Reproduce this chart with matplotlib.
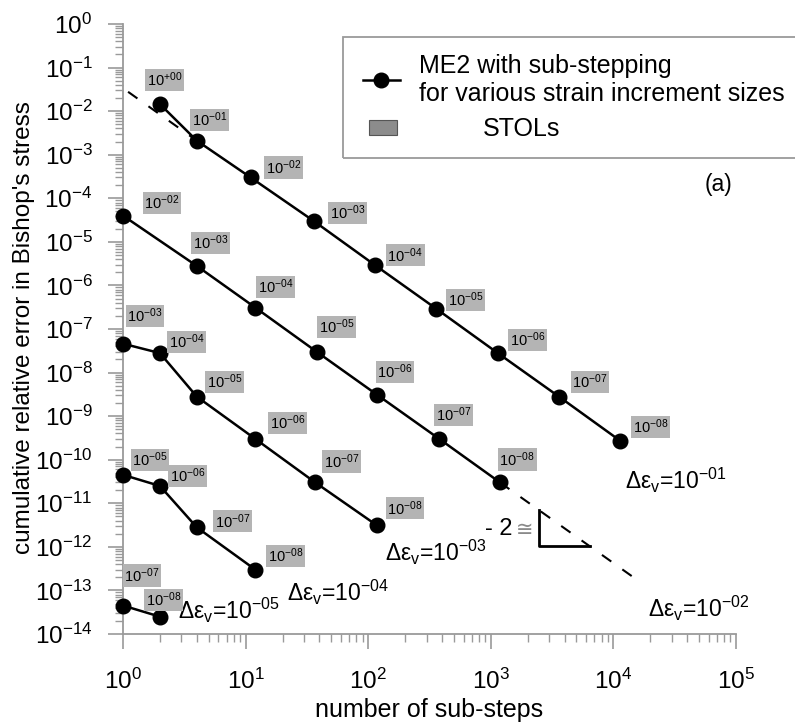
import numpy as np
import matplotlib
matplotlib.use("Agg")
import matplotlib.pyplot as plt
from matplotlib.ticker import LogLocator, NullFormatter
from matplotlib.lines import Line2D
from matplotlib.patches import Rectangle

plt.rcParams['font.family'] = ['Liberation Sans', 'DejaVu Sans']
plt.rcParams['mathtext.fontset'] = 'custom'
plt.rcParams['mathtext.rm'] = 'Liberation Sans'
plt.rcParams['mathtext.it'] = 'Liberation Sans:italic'

# -------------------------------
# Data
# -------------------------------
strain_exp = [-1, -2, -3, -4, -5]

steps_1 = [2, 4, 11, 36, 114, 360, 1140, 3600, 11400]
err_1 = [1.45e-2, 2.1e-3, 3.0e-4, 3.0e-5, 2.9e-6, 2.9e-7, 2.8e-8, 2.8e-9, 2.7e-10]
stol_1 = [0, -1, -2, -3, -4, -5, -6, -7, -8]

steps_2 = [1, 4, 12, 38, 118, 380, 1190]
err_2 = [4.0e-5, 2.8e-6, 3.1e-7, 3.0e-8, 3.1e-9, 3.0e-10, 3.0e-11]
stol_2 = [-2, -3, -4, -5, -6, -7, -8]

steps_3 = [1, 2, 4, 12, 37, 118]
err_3 = [4.6e-8, 2.8e-8, 2.8e-9, 3.0e-10, 3.0e-11, 3.1e-12]
stol_3 = [-3, -4, -5, -6, -7, -8]

steps_4 = [1, 2, 4, 12]
err_4 = [4.5e-11, 2.5e-11, 2.8e-12, 3.0e-13]
stol_4 = [-5, -6, -7, -8]

steps_5 = [1, 2]
err_5 = [4.5e-14, 2.5e-14]
stol_5 = [-7, -8]

# label offsets (pixels) of the STOL boxes
offs_1 = [(5, 24), (13, 21), (33, 10), (34, 8), (30, 10), (29, 9), (30, 13), (31, 15), (30, 14)]
offs_2 = [(39, 13), (14, 23), (20, 21), (20, 25), (18, 23), (14, 24), (17, 23)]
offs_3 = [(22, 28), (27, 11), (28, 15), (32, 16), (26, 21), (28, 17)]
offs_4 = [(27, 15), (28, 10), (36, 6), (30, 14)]
offs_5 = [(19, 30), (4, 17)]

# -------------------------------
# Figure
# -------------------------------
W, H = 795, 727
fig = plt.figure(figsize=(W / 100, H / 100), dpi=100)
ax = fig.add_axes([123 / W, 1 - 634 / H, (736 - 123) / W, (634 - 24) / H])
ax.set_xscale('log')
ax.set_yscale('log')
ax.set_xlim(1, 1e5)
ax.set_ylim(1e-14, 1)

spine_c = '#9a9a9a'
for s in ['top', 'right']:
    ax.spines[s].set_visible(False)
for s in ['left', 'bottom']:
    ax.spines[s].set_color(spine_c)
    ax.spines[s].set_linewidth(1.3)

ax.xaxis.set_major_locator(LogLocator(base=10, numticks=20))
ax.yaxis.set_major_locator(LogLocator(base=10, numticks=30))
ax.xaxis.set_minor_locator(LogLocator(base=10, subs=np.arange(2, 10), numticks=100))
ax.yaxis.set_minor_locator(LogLocator(base=10, subs=np.arange(2, 10), numticks=200))
ax.xaxis.set_minor_formatter(NullFormatter())
ax.yaxis.set_minor_formatter(NullFormatter())
ax.tick_params(which='major', direction='out', length=11, width=1.2, color=spine_c,
               labelsize=17.5)
ax.tick_params(which='minor', direction='out', length=5.5, width=1.0, color=spine_c)
ax.tick_params(axis='x', which='major', pad=14)
ax.tick_params(axis='y', which='major', pad=11)

series = [
    (steps_1, err_1, stol_1, offs_1),
    (steps_2, err_2, stol_2, offs_2),
    (steps_3, err_3, stol_3, offs_3),
    (steps_4, err_4, stol_4, offs_4),
    (steps_5, err_5, stol_5, offs_5),
]

def stol_text(e):
    sign = '+' if e >= 0 else '-'
    return '10$^{%s%02d}$' % (sign, abs(e))

for n, err, stol, offs in series:
    ax.plot(n, err, '-', color='black', lw=1.8, marker='o', ms=10.5,
            mfc='black', mec='black', zorder=3, clip_on=False)
    for xi, yi, s, (dx, dy) in zip(n, err, stol, offs):
        ax.annotate(stol_text(s), (xi, yi), xytext=(dx, dy), textcoords='offset pixels',
                    ha='center', va='center', fontsize=10.5, zorder=4,
                    bbox=dict(boxstyle='square,pad=0.12', fc='#b4b4b4', ec='none'))

# dashed slope -2 guide lines
dash = (0, (5.5, 6.5))
n_a = np.array([1.1, steps_1[1]])
ax.plot(n_a, err_1[1] * (n_a / steps_1[1]) ** -2, color='black', lw=1.5,
        linestyle=dash, zorder=2)
n_b = np.array([steps_2[-1], 16500])
ax.plot(n_b, err_2[-1] * (n_b / steps_2[-1]) ** -2, color='black', lw=1.5,
        linestyle=dash, zorder=2)

# slope triangle
tx1, tx2 = 2470, 6440
ty1 = err_2[-1] * (tx1 / steps_2[-1]) ** -2
ty2 = err_2[-1] * (tx2 / steps_2[-1]) ** -2
ax.plot([tx1, tx1, tx2], [ty1, ty2, ty2], color='black', lw=2, zorder=2)
ymid = np.sqrt(ty1 * ty2)
ax.annotate('- 2', (tx1, ymid), xytext=(-26, -1), textcoords='offset pixels',
            ha='right', va='center', fontsize=17)
ax.annotate('\u2245', (tx1, ymid), xytext=(-6, -2), textcoords='offset pixels',
            ha='right', va='center', fontsize=15, color='#8a8a8a')

# strain increment labels
def de_text(e):
    return '\u0394\u03b5$_{\\rm v}$=10$^{-%02d}$' % abs(e)

de_pos = [(11400, 2.7e-10, 5, -40), (16500, 1.56e-13, 8, -26),
          (118, 3.1e-12, 8, -27), (12, 3.0e-13, 32, -23), (2, 2.5e-14, 18, 6)]
for e, (xp, yp, dx, dy) in zip(strain_exp, de_pos):
    ax.annotate(de_text(e), (xp, yp), xytext=(dx, dy), textcoords='offset pixels',
                ha='left', va='center', fontsize=16.5)

# axis labels
fig.text(429 / W, 1 - 710 / H, 'number of sub-steps', ha='center', va='center', fontsize=18)
fig.text(24 / W, 1 - 328 / H, "cumulative relative error in Bishop's stress",
         ha='center', va='center', rotation=90, fontsize=17.5)

# legend box (drawn by hand)
fig.add_artist(Rectangle((343 / W, 1 - 158 / H), (820 - 343) / W, (158 - 37) / H,
                         transform=fig.transFigure, fill=False, ec='#9a9a9a', lw=1.3))
fig.add_artist(Line2D([363 / W, 400 / W], [1 - 80 / H, 1 - 80 / H], color='black', lw=1.8,
                      transform=fig.transFigure))
fig.add_artist(Line2D([381 / W], [1 - 80 / H], marker='o', ms=10.5, color='black',
                      transform=fig.transFigure))
fig.add_artist(Rectangle((369 / W, 1 - 135 / H), 28 / W, 15 / H, transform=fig.transFigure,
                         fc='#8c8c8c', ec='#555555', lw=0.8))
fig.text(419 / W, 1 - 66 / H, 'ME2 with sub-stepping', ha='left', va='center', fontsize=18)
fig.text(419 / W, 1 - 94 / H, 'for various strain increment sizes', ha='left', va='center',
         fontsize=18)
fig.text(483 / W, 1 - 129 / H, 'STOLs', ha='left', va='center', fontsize=18)
fig.text(718 / W, 1 - 185 / H, '(a)', ha='center', va='center', fontsize=16.5)

fig.savefig('out.png', dpi=100)
